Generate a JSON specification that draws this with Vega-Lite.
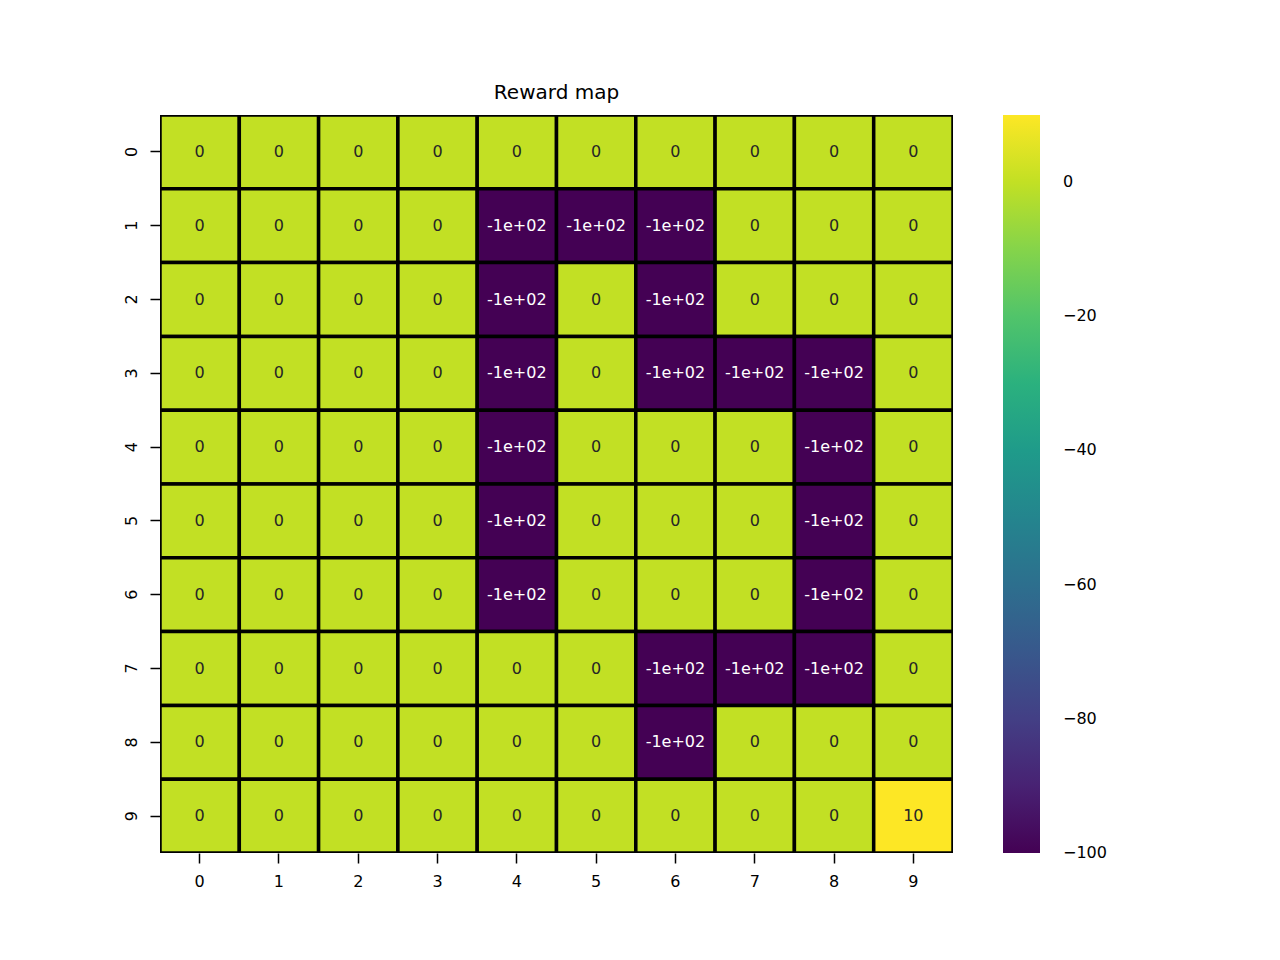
{
  "$schema": "https://vega.github.io/schema/vega-lite/v6.json",
  "width": 793,
  "height": 738,
  "autosize": {"type": "none"},
  "padding": {"left": 160, "top": 115, "right": 327, "bottom": 107},
  "background": "white",
  "title": {"text": "Reward map", "font": "DejaVu Sans", "fontSize": 20, "fontWeight": "normal", "color": "black", "anchor": "middle", "baseline": "alphabetic", "offset": -4},
  "data": {"values": [
    {"r":0,"c":0,"v":0,"t":"0"},{"r":0,"c":1,"v":0,"t":"0"},{"r":0,"c":2,"v":0,"t":"0"},{"r":0,"c":3,"v":0,"t":"0"},{"r":0,"c":4,"v":0,"t":"0"},{"r":0,"c":5,"v":0,"t":"0"},{"r":0,"c":6,"v":0,"t":"0"},{"r":0,"c":7,"v":0,"t":"0"},{"r":0,"c":8,"v":0,"t":"0"},{"r":0,"c":9,"v":0,"t":"0"},
    {"r":1,"c":0,"v":0,"t":"0"},{"r":1,"c":1,"v":0,"t":"0"},{"r":1,"c":2,"v":0,"t":"0"},{"r":1,"c":3,"v":0,"t":"0"},{"r":1,"c":4,"v":-100,"t":"-1e+02"},{"r":1,"c":5,"v":-100,"t":"-1e+02"},{"r":1,"c":6,"v":-100,"t":"-1e+02"},{"r":1,"c":7,"v":0,"t":"0"},{"r":1,"c":8,"v":0,"t":"0"},{"r":1,"c":9,"v":0,"t":"0"},
    {"r":2,"c":0,"v":0,"t":"0"},{"r":2,"c":1,"v":0,"t":"0"},{"r":2,"c":2,"v":0,"t":"0"},{"r":2,"c":3,"v":0,"t":"0"},{"r":2,"c":4,"v":-100,"t":"-1e+02"},{"r":2,"c":5,"v":0,"t":"0"},{"r":2,"c":6,"v":-100,"t":"-1e+02"},{"r":2,"c":7,"v":0,"t":"0"},{"r":2,"c":8,"v":0,"t":"0"},{"r":2,"c":9,"v":0,"t":"0"},
    {"r":3,"c":0,"v":0,"t":"0"},{"r":3,"c":1,"v":0,"t":"0"},{"r":3,"c":2,"v":0,"t":"0"},{"r":3,"c":3,"v":0,"t":"0"},{"r":3,"c":4,"v":-100,"t":"-1e+02"},{"r":3,"c":5,"v":0,"t":"0"},{"r":3,"c":6,"v":-100,"t":"-1e+02"},{"r":3,"c":7,"v":-100,"t":"-1e+02"},{"r":3,"c":8,"v":-100,"t":"-1e+02"},{"r":3,"c":9,"v":0,"t":"0"},
    {"r":4,"c":0,"v":0,"t":"0"},{"r":4,"c":1,"v":0,"t":"0"},{"r":4,"c":2,"v":0,"t":"0"},{"r":4,"c":3,"v":0,"t":"0"},{"r":4,"c":4,"v":-100,"t":"-1e+02"},{"r":4,"c":5,"v":0,"t":"0"},{"r":4,"c":6,"v":0,"t":"0"},{"r":4,"c":7,"v":0,"t":"0"},{"r":4,"c":8,"v":-100,"t":"-1e+02"},{"r":4,"c":9,"v":0,"t":"0"},
    {"r":5,"c":0,"v":0,"t":"0"},{"r":5,"c":1,"v":0,"t":"0"},{"r":5,"c":2,"v":0,"t":"0"},{"r":5,"c":3,"v":0,"t":"0"},{"r":5,"c":4,"v":-100,"t":"-1e+02"},{"r":5,"c":5,"v":0,"t":"0"},{"r":5,"c":6,"v":0,"t":"0"},{"r":5,"c":7,"v":0,"t":"0"},{"r":5,"c":8,"v":-100,"t":"-1e+02"},{"r":5,"c":9,"v":0,"t":"0"},
    {"r":6,"c":0,"v":0,"t":"0"},{"r":6,"c":1,"v":0,"t":"0"},{"r":6,"c":2,"v":0,"t":"0"},{"r":6,"c":3,"v":0,"t":"0"},{"r":6,"c":4,"v":-100,"t":"-1e+02"},{"r":6,"c":5,"v":0,"t":"0"},{"r":6,"c":6,"v":0,"t":"0"},{"r":6,"c":7,"v":0,"t":"0"},{"r":6,"c":8,"v":-100,"t":"-1e+02"},{"r":6,"c":9,"v":0,"t":"0"},
    {"r":7,"c":0,"v":0,"t":"0"},{"r":7,"c":1,"v":0,"t":"0"},{"r":7,"c":2,"v":0,"t":"0"},{"r":7,"c":3,"v":0,"t":"0"},{"r":7,"c":4,"v":0,"t":"0"},{"r":7,"c":5,"v":0,"t":"0"},{"r":7,"c":6,"v":-100,"t":"-1e+02"},{"r":7,"c":7,"v":-100,"t":"-1e+02"},{"r":7,"c":8,"v":-100,"t":"-1e+02"},{"r":7,"c":9,"v":0,"t":"0"},
    {"r":8,"c":0,"v":0,"t":"0"},{"r":8,"c":1,"v":0,"t":"0"},{"r":8,"c":2,"v":0,"t":"0"},{"r":8,"c":3,"v":0,"t":"0"},{"r":8,"c":4,"v":0,"t":"0"},{"r":8,"c":5,"v":0,"t":"0"},{"r":8,"c":6,"v":-100,"t":"-1e+02"},{"r":8,"c":7,"v":0,"t":"0"},{"r":8,"c":8,"v":0,"t":"0"},{"r":8,"c":9,"v":0,"t":"0"},
    {"r":9,"c":0,"v":0,"t":"0"},{"r":9,"c":1,"v":0,"t":"0"},{"r":9,"c":2,"v":0,"t":"0"},{"r":9,"c":3,"v":0,"t":"0"},{"r":9,"c":4,"v":0,"t":"0"},{"r":9,"c":5,"v":0,"t":"0"},{"r":9,"c":6,"v":0,"t":"0"},{"r":9,"c":7,"v":0,"t":"0"},{"r":9,"c":8,"v":0,"t":"0"},{"r":9,"c":9,"v":10,"t":"10"}
  ]},
  "encoding": {
    "x": {"field": "c", "type": "ordinal", "sort": "ascending", "scale": {"paddingInner": 0, "paddingOuter": 0},
          "axis": {"title": null, "labelAngle": 0, "labelPadding": 10}},
    "y": {"field": "r", "type": "ordinal", "sort": "ascending", "scale": {"paddingInner": 0, "paddingOuter": 0},
          "axis": {"title": null, "labelAngle": -90, "labelPadding": 11}}
  },
  "layer": [
    {
      "mark": {"type": "rect", "stroke": "black", "strokeWidth": 3.5, "clip": true},
      "encoding": {
        "color": {"field": "v", "type": "quantitative",
                  "scale": {"scheme": "viridis", "domain": [-100, 10]},
                  "legend": {"orient": "none", "legendX": 843, "legendY": 0, "direction": "vertical",
                             "gradientLength": 738, "gradientThickness": 37, "gradientStrokeWidth": 0,
                             "values": [0, -20, -40, -60, -80, -100], "title": null, "padding": 0,
                             "labelFont": "DejaVu Sans", "labelFontSize": 16, "labelColor": "black",
                             "labelOffset": 23, "labelBaseline": "middle", "labelOverlap": false,
                             "labelExpr": "replace(datum.label, '-', '\u2212')",
                             "encode": {"labels": {"update": {"baseline": {"value": "middle"}}}}}}
      }
    },
    {
      "mark": {"type": "text", "font": "DejaVu Sans", "fontSize": 16, "baseline": "middle", "align": "center"},
      "encoding": {
        "text": {"field": "t"},
        "color": {"condition": {"test": "datum.v < -50", "value": "white"}, "value": "#262626"}
      }
    }
  ],
  "config": {
    "view": {"stroke": null},
    "axis": {"labelFont": "DejaVu Sans", "labelFontSize": 16, "labelColor": "black", "tickColor": "black",
             "tickSize": 10, "tickWidth": 1.5, "domain": false, "grid": false}
  }
}
